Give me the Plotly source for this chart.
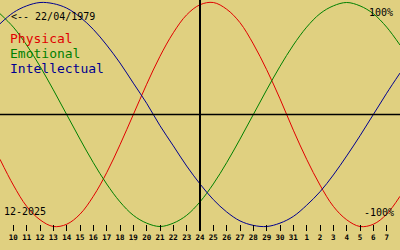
import plotly.graph_objects as go

# ---- data ----
days = list(range(9, 40))  # 9 Dec 2025 .. 8 Jan 2026 (day 32 = 1 Jan)
physical = [-0.40, -0.63, -0.82, -0.94, -1.00, -0.98, -0.89, -0.73, -0.52, -0.27,
            0.00, 0.27, 0.52, 0.73, 0.89, 0.98, 1.00, 0.94, 0.82, 0.63,
            0.40, 0.14, -0.14, -0.40, -0.63, -0.82, -0.94, -1.00, -0.98, -0.89, -0.73]
emotional = [0.90, 0.78, 0.62, 0.43, 0.22, 0.00, -0.22, -0.43, -0.62, -0.78,
             -0.90, -0.97, -1.00, -0.97, -0.90, -0.78, -0.62, -0.43, -0.22, 0.00,
             0.22, 0.43, 0.62, 0.78, 0.90, 0.97, 1.00, 0.97, 0.90, 0.78, 0.62]
intellectual = [0.81, 0.91, 0.97, 1.00, 0.99, 0.95, 0.87, 0.76, 0.62, 0.46,
                0.28, 0.10, -0.10, -0.28, -0.46, -0.62, -0.76, -0.87, -0.95, -0.99,
                -1.00, -0.97, -0.91, -0.81, -0.69, -0.54, -0.37, -0.19, 0.00, 0.19, 0.37]
tick_days = list(range(10, 39))
tick_labels = [str(d) for d in range(10, 32)] + [str(d) for d in range(1, 8)]
today = 24
birth_label = "<-- 22/04/1979"
month_label = "12-2025"
series_names = ["Physical", "Emotional", "Intellectual"]
series_colors = ["#E00000", "#008000", "#000090"]

BG = "#E0D080"
W, H = 400, 250
PLOT_H = 231  # plot area height in px


def py(p):
    return 1 - p / PLOT_H


fig = go.Figure()
for name, vals, col in zip(series_names, [physical, emotional, intellectual], series_colors):
    fig.add_trace(go.Scatter(x=days, y=vals, mode="lines", name=name,
                             line=dict(color=col, width=1, shape="spline"),
                             hoverinfo="skip", showlegend=False))

shapes = [
    dict(type="line", xref="x", yref="paper", x0=today, x1=today, y0=0, y1=1,
         line=dict(color="black", width=2)),
    dict(type="line", xref="paper", yref="y", x0=0, x1=1, y0=0, y1=0,
         line=dict(color="black", width=1.5)),
]

mono = "DejaVu Sans Mono"
ann = [
    dict(text=birth_label, x=10 / W, y=py(16.5), font=dict(size=10, color="black", family=mono),
         xanchor="left", yanchor="middle"),
    dict(text=month_label, x=3 / W, y=py(211.5), font=dict(size=10, color="black", family=mono),
         xanchor="left", yanchor="middle"),
    dict(text="100%", x=394 / W, y=py(12), font=dict(size=10, color="black", family=mono),
         xanchor="right", yanchor="middle"),
    dict(text="-100%", x=395 / W, y=py(212.5), font=dict(size=10, color="black", family=mono),
         xanchor="right", yanchor="middle"),
]
for i, (name, col) in enumerate(zip(series_names, series_colors)):
    ann.append(dict(text=name, x=9 / W, y=py(38.5 + 15 * i),
                    font=dict(size=13, color=col, family=mono),
                    xanchor="left", yanchor="middle"))
for a in ann:
    a.update(xref="paper", yref="paper", showarrow=False, borderpad=0)

fig.update_layout(
    width=W, height=H,
    margin=dict(l=0, r=0, t=0, b=H - PLOT_H, pad=0),
    paper_bgcolor=BG, plot_bgcolor=BG,
    xaxis=dict(range=[9, 39], showgrid=False, zeroline=False, showline=False,
               tickmode="array", tickvals=tick_days, ticktext=tick_labels,
               ticks="inside", ticklen=6, tickwidth=1, tickcolor="black",
               tickfont=dict(size=7.5, color="black", family=mono, weight="bold"),
               tickangle=0, fixedrange=True),
    yaxis=dict(range=[-1.0402, 1.0223], showgrid=False, zeroline=False,
               showline=False, showticklabels=False, ticks="", fixedrange=True),
    shapes=shapes, annotations=ann,
)

fig.write_html("out.html", config={"displayModeBar": False})
